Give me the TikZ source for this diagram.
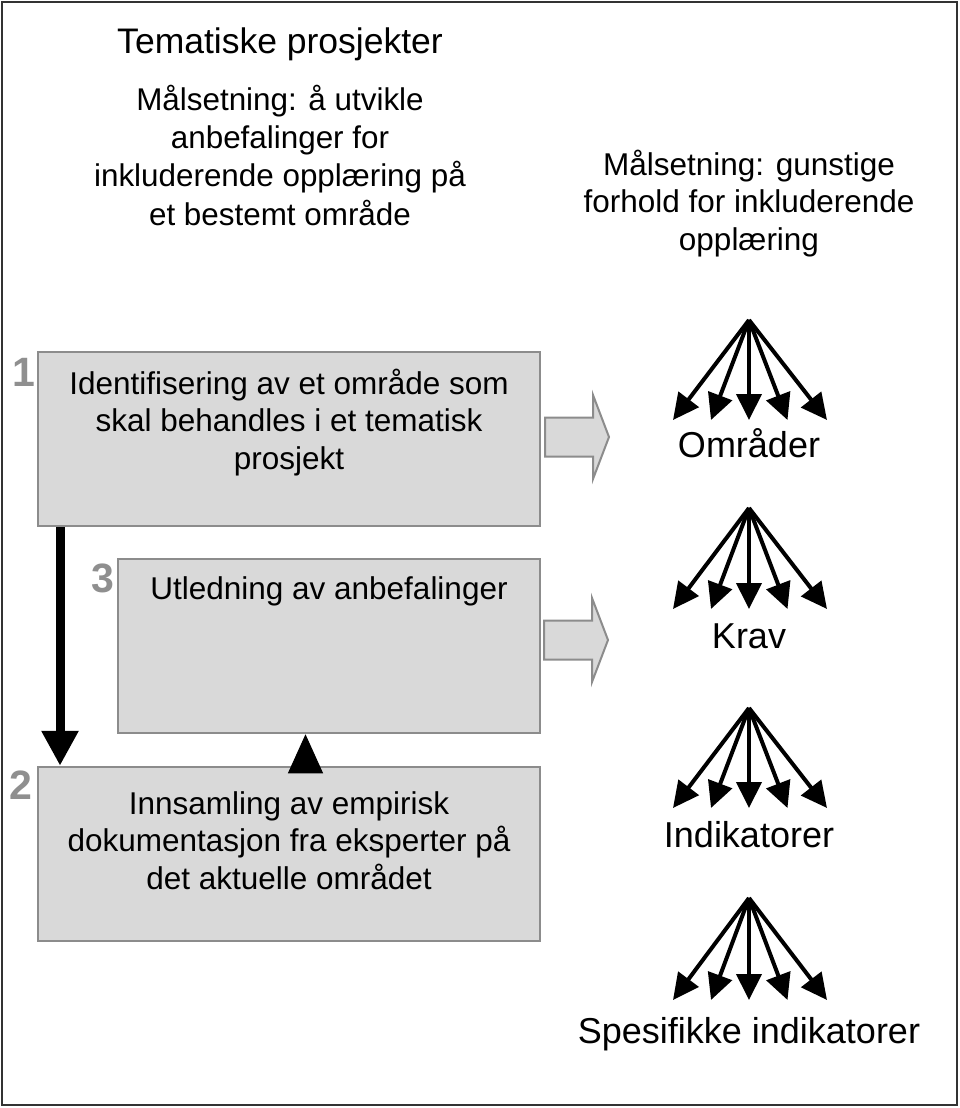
\documentclass[tikz,border=0pt]{standalone}
\usepackage{fontspec}
\setmainfont{Liberation Sans}
\usetikzlibrary{arrows.meta}

\definecolor{boxfill}{HTML}{D9D9D9}
\definecolor{boxline}{HTML}{8C8C8C}
\definecolor{numgray}{HTML}{8F8F8F}
\definecolor{frameline}{HTML}{333333}

\newcommand{\fsz}[2]{\fontsize{#1}{#2}\selectfont}

\begin{document}
\begin{tikzpicture}[x=1pt,y=-1pt,
  stepbox/.style={draw=boxline, fill=boxfill, line width=2.5pt, inner sep=0pt,
                  minimum width=502pt},
  % multi-line texts are placed by the baseline of their last line
  boxtext/.style={align=center, inner sep=0pt, anchor=base, font=\fsz{31.5}{37.5}},
  goaltext/.style={align=center, inner sep=0pt, anchor=base},
  stepnum/.style={text=numgray, font=\fsz{41}{41}\bfseries, inner sep=0pt, anchor=base},
  fanlabel/.style={inner sep=0pt, anchor=base, font=\fsz{36}{40}},
  fanarrow/.style={line width=4pt, -{Triangle[length=26pt,width=25pt]}},
  flowarrow/.style={line width=9pt, -{Triangle[length=35pt,width=35pt]}},
  backarrow/.style={line width=1pt, -{Triangle[length=39pt,width=35pt]}},
  blockarrow/.pic={
    \draw[draw=boxline, fill=boxfill, line width=2pt, line join=miter]
      (0,-19.5) -- (48,-19.5) -- (48,-42) -- (64,0) -- (48,42) -- (48,19.5)
      -- (0,19.5) -- cycle;
  }]

\useasboundingbox (0,0) rectangle (959,1108);
\draw[frameline, line width=2pt] (2,2) rectangle (957,1105);

% headings
\node[goaltext, font=\fsz{35.5}{40}] (title) at (280,53) {Tematiske prosjekter};
\node[goaltext, font=\fsz{31.4}{38.3}] (goalleft) at (280,225)
  {Målsetning: å utvikle\\anbefalinger for\\inkluderende opplæring på\\et bestemt område};
\node[goaltext, font=\fsz{31.5}{37.5}] (goalright) at (749,250)
  {Målsetning: gunstige\\forhold for inkluderende\\opplæring};

% the three steps
\node[stepbox, minimum height=174pt] (box1) at (289,439) {};
\node[stepbox, minimum width=422pt, minimum height=174pt] (box3) at (329,646) {};
\node[stepbox, minimum height=174pt] (box2) at (289,854) {};

\node[boxtext] (text1) at (289,469)
  {Identifisering av et område som\\skal behandles i et tematisk\\prosjekt};
\node[boxtext] (text3) at (329,599) {Utledning av anbefalinger};
\node[boxtext] (text2) at (289,889)
  {Innsamling av empirisk\\dokumentasjon fra eksperter på\\det aktuelle området};

\node[stepnum] (num1) at (24,386) {1};
\node[stepnum] (num3) at (102.5,592) {3};
\node[stepnum] (num2) at (21,799) {2};

% flow between the steps
\coordinate (downcol) at (60,0);
\coordinate (upcol) at (305.5,0);
\draw[flowarrow] (downcol |- box1.south) -- (downcol |- box2.north);
\draw[backarrow] (upcol |- box2.north) -- (upcol |- box3.south);

% outputs of steps 1 and 3
\pic at (545,437) {blockarrow};
\pic at (544,640) {blockarrow};

% fans of conditions
\foreach \nm/\ay/\ty/\by/\txt in {omr/320/420/457/Områder,
                                  krav/508/609/648/Krav,
                                  ind/708/808/847/Indikatorer,
                                  spes/898/1000/1043/Spesifikke indikatorer}{
  \coordinate (\nm-top) at (749,\ay);
  \foreach \dx [count=\i] in {-76,-38,0,38.5,78}{
    \coordinate (\nm-\i) at (749+\dx,\ty);
    \draw[fanarrow] (\nm-top) -- (\nm-\i);
  }
  \node[fanlabel] (\nm) at (749,\by) {\txt};
}
\end{tikzpicture}
\end{document}
